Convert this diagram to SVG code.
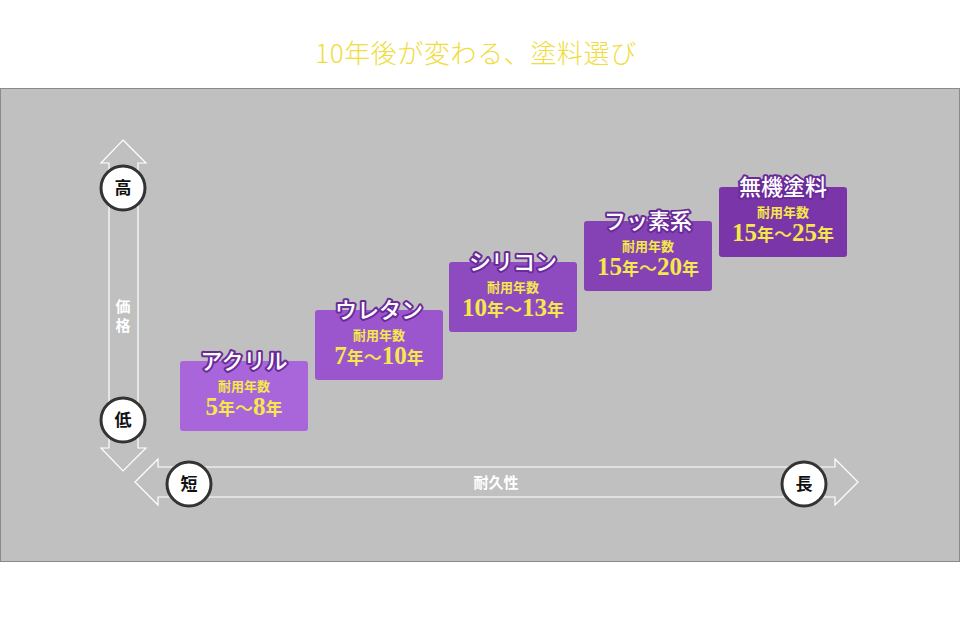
<svg xmlns="http://www.w3.org/2000/svg" width="960" height="620" viewBox="0 0 960 620">
<style>
.title{font-family:"Noto Sans CJK JP","Noto Sans",sans-serif;font-weight:300;font-size:26px;fill:#f0dc3c;letter-spacing:0.6px}
.arrow{fill:none;stroke:#ffffff;stroke-width:1.2}
.circ{fill:#ffffff;stroke:#333333;stroke-width:3}
.ctext{font-family:"Noto Sans CJK JP",sans-serif;font-weight:700;font-size:17px;fill:#111111}
.axis{font-family:"Noto Sans CJK JP",sans-serif;font-weight:700;font-size:15px;fill:#ffffff}
.label{font-family:"Noto Sans CJK JP",sans-serif;font-weight:500;font-size:22px;fill:#ffffff;stroke:#6a2a9a;stroke-width:4;paint-order:stroke;stroke-linejoin:round}
.sub{font-family:"Noto Sans CJK JP",sans-serif;font-weight:700;font-size:13px;fill:#f5e84a}
.yr{font-family:"Liberation Serif",serif;font-weight:700;font-size:25px;fill:#f5e84a}
.nen{font-family:"Noto Sans CJK JP",serif;font-weight:700;font-size:17px}
.til{font-family:"Noto Sans CJK JP",serif;font-weight:500;font-size:18px}
</style>
<rect x="0" y="0" width="960" height="620" fill="#ffffff"/>
<text class="title" x="476" y="63" text-anchor="middle">10年後が変わる、塗料選び</text>
<rect x="0.5" y="88.5" width="959" height="473" fill="#c0c0c0" stroke="#8a8a8a" stroke-width="1"/>
<g id="connectors">
<polygon class="arrow" points="123,140 146,163 138,163 138,448 146,448 123,471 101,448 109,448 109,163 101,163"/>
<polygon class="arrow" points="135,482 158,459 158,467 835,467 835,459 858,482 835,505 835,497 158,497 158,505"/>
</g>
<g id="axis-price">
<text class="axis" x="123" y="312" text-anchor="middle">価</text>
<text class="axis" x="123" y="331" text-anchor="middle">格</text>
</g>
<g id="axis-durability">
<text class="axis" x="496" y="488" text-anchor="middle">耐久性</text>
</g>
<g id="high"><circle class="circ" cx="123" cy="188" r="22"/><text class="ctext" x="123" y="194" text-anchor="middle">高</text></g>
<g id="low"><circle class="circ" cx="123" cy="420" r="22"/><text class="ctext" x="123" y="426" text-anchor="middle">低</text></g>
<g id="short"><circle class="circ" cx="189" cy="484" r="22"/><text class="ctext" x="189" y="490" text-anchor="middle">短</text></g>
<g id="long"><circle class="circ" cx="804" cy="484" r="22"/><text class="ctext" x="804" y="490" text-anchor="middle">長</text></g>

<g id="acrylic">
<rect x="180" y="361" width="128" height="70" rx="3" fill="#a866da"/>
<text class="label" x="244" y="369" text-anchor="middle">アクリル</text>
<text class="sub" x="244" y="391" text-anchor="middle">耐用年数</text>
<text class="yr" x="244" y="415" text-anchor="middle">5<tspan class="nen">年</tspan><tspan class="til">〜</tspan>8<tspan class="nen">年</tspan></text>
</g>
<g id="urethane">
<rect x="315" y="310" width="128" height="70" rx="3" fill="#9c56cd"/>
<text class="label" x="379" y="318" text-anchor="middle">ウレタン</text>
<text class="sub" x="379" y="340" text-anchor="middle">耐用年数</text>
<text class="yr" x="379" y="364" text-anchor="middle">7<tspan class="nen">年</tspan><tspan class="til">〜</tspan>10<tspan class="nen">年</tspan></text>
</g>
<g id="silicone">
<rect x="449" y="262" width="128" height="70" rx="3" fill="#8e4bbf"/>
<text class="label" x="513" y="270" text-anchor="middle">シリコン</text>
<text class="sub" x="513" y="292" text-anchor="middle">耐用年数</text>
<text class="yr" x="513" y="316" text-anchor="middle">10<tspan class="nen">年</tspan><tspan class="til">〜</tspan>13<tspan class="nen">年</tspan></text>
</g>
<g id="fluorine">
<rect x="584" y="221" width="128" height="70" rx="3" fill="#8442b5"/>
<text class="label" x="648" y="229" text-anchor="middle">フッ素系</text>
<text class="sub" x="648" y="251" text-anchor="middle">耐用年数</text>
<text class="yr" x="648" y="275" text-anchor="middle">15<tspan class="nen">年</tspan><tspan class="til">〜</tspan>20<tspan class="nen">年</tspan></text>
</g>
<g id="inorganic">
<rect x="719" y="187" width="128" height="70" rx="3" fill="#7a35a8"/>
<text class="label" x="783" y="195" text-anchor="middle">無機塗料</text>
<text class="sub" x="783" y="217" text-anchor="middle">耐用年数</text>
<text class="yr" x="783" y="241" text-anchor="middle">15<tspan class="nen">年</tspan><tspan class="til">〜</tspan>25<tspan class="nen">年</tspan></text>
</g>
</svg>
